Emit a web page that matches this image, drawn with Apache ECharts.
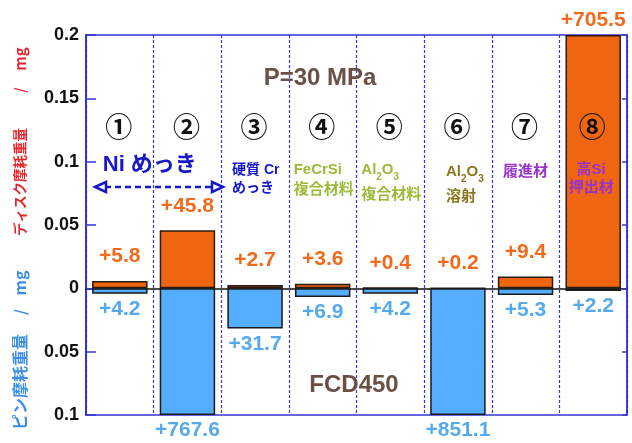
<!DOCTYPE html>
<html><head><meta charset="utf-8">
<script src="https://cdn.jsdelivr.net/npm/echarts@6/dist/echarts.min.js"></script>
<style>html,body{margin:0;padding:0;background:#fff}#c{width:632px;height:443px}</style>
</head><body><div id="c"></div>
<script>
// Data (labels are wear values ×10^-3 mg, as printed on the chart)
const categories = ['①','②','③','④','⑤','⑥','⑦','⑧'];
const discWear = [5.8, 45.8, 2.7, 3.6, 0.4, 0.2, 9.4, 705.5];
const pinWear = [4.2, 767.6, 31.7, 6.9, 4.2, 851.1, 5.3, 2.2];
const yMin = -0.1, yMax = 0.2, yInterval = 0.05;
const materials = ['Ni めっき', '', '硬質 Cr\nめっき', 'FeCrSi\n複合材料', '{n|Al}{s|2}{n|O}{s|3}\n{n|複合材料}', '{n|Al}{s|2}{n|O}{s|3}\n{n|溶射}', '履進材', '高Si\n押出材'];

const FONT = "'Liberation Sans', 'Noto Sans CJK JP', sans-serif";
const ORANGE = '#f0650f', BLUE = '#55adff', AXIS = '#3434d8';

const chart = echarts.init(document.getElementById('c'));

const discData = discWear.map(v => {
  const val = Math.min(v / 1000, yMax);
  const item = { value: val, raw: v };
  if (v / 1000 > yMax) item.label = { distance: 4 };
  return item;
});
const pinData = pinWear.map(v => {
  const val = Math.max(-v / 1000, yMin);
  return { value: val, raw: v };
});

const yLabelFmt = v => { const a = Math.abs(v); return a < 1e-9 ? '0' : String(+a.toFixed(2)); };

chart.setOption({
  animation: false,
  grid: { left: 86, right: 5, top: 35, bottom: 28, show: true, borderColor: AXIS, borderWidth: 1.5 },
  xAxis: {
    type: 'category', data: categories,
    axisLine: { onZero: true, lineStyle: { color: '#111', width: 1.5 } },
    axisTick: { show: false }, axisLabel: { show: false },
    splitLine: { show: true, interval: 0, lineStyle: { color: AXIS, type: [3, 2], width: 1.2 } }
  },
  yAxis: [{
    type: 'value', min: yMin, max: yMax, interval: yInterval,
    axisLine: { show: true, lineStyle: { color: AXIS, width: 2 } },
    axisTick: { show: true, inside: true, length: 10, lineStyle: { color: AXIS, width: 1.5 } },
    axisLabel: { formatter: yLabelFmt, color: '#111', fontSize: 18, fontWeight: 'bold', fontFamily: FONT, margin: 7 },
    splitLine: { show: false }
  }, {
    type: 'value', min: yMin, max: yMax, interval: yInterval, position: 'right',
    axisLine: { show: true, lineStyle: { color: AXIS, width: 1.5 } },
    axisTick: { show: true, inside: true, length: 5, lineStyle: { color: AXIS, width: 1.5 } },
    axisLabel: { show: false }, splitLine: { show: false }
  }],
  series: [{
    name: 'disc', type: 'bar', stack: 'w', barWidth: '82%', data: discData,
    itemStyle: { color: ORANGE, borderColor: '#2a1a10', borderWidth: 1.5 },
    label: { show: true, position: 'top', distance: 14, formatter: p => '+' + p.data.raw.toFixed(1),
      color: '#f26a1c', fontSize: 21, fontWeight: 'bold', fontFamily: FONT }
  }, {
    name: 'pin', type: 'bar', stack: 'w', barWidth: '82%', data: pinData,
    itemStyle: { color: BLUE, borderColor: '#1a1a1a', borderWidth: 1.5 },
    label: { show: true, position: 'bottom', distance: 5, formatter: p => '+' + p.data.raw.toFixed(1),
      color: '#55aaee', fontSize: 21, fontWeight: 'bold', fontFamily: FONT }
  }]
});

// annotations
const cx = i => chart.convertToPixel({ xAxisIndex: 0 }, categories[i]);
const g = [];
categories.forEach((c, i) => {
  g.push({ type: 'text', x: cx(i) - 1, y: 127, style: { text: c, fill: '#111', font: "bold 27px 'Noto Sans CJK JP', sans-serif", align: 'center', verticalAlign: 'middle' }, z: 10 });
});
const matStyle = [
  { dx: 30, y: 165, align: 'center', color: '#1616cc', size: 22, lh: 24 },
  null,
  { dx: -23, y: 179, align: 'left', color: '#1616cc', size: 14, lh: 18 },
  { dx: -29, y: 180, align: 'left', color: '#9bba38', size: 15, lh: 20 },
  { dx: -29, y: 182, align: 'left', color: '#9bba38', size: 15, lh: 25 },
  { dx: -12, y: 184, align: 'left', color: '#8a7820', size: 15, lh: 25 },
  { dx: 0, y: 172, align: 'center', color: '#9933cc', size: 15, lh: 20 },
  { dx: -2, y: 179, align: 'center', color: '#9933cc', size: 15, lh: 18 }
];
materials.forEach((t, i) => {
  const s = matStyle[i];
  if (!t || !s) return;
  g.push({ type: 'text', x: cx(i) + s.dx, y: s.y, z: 10, style: {
    text: t, fill: s.color, fontSize: s.size, fontWeight: 'bold', fontFamily: FONT, lineHeight: s.lh,
    align: s.align, verticalAlign: 'middle',
    rich: { n: { fontSize: s.size, fontWeight: 'bold', fontFamily: FONT, fill: s.color, lineHeight: s.lh },
            s: { fontSize: 10, fontWeight: 'bold', fontFamily: FONT, fill: s.color, lineHeight: s.lh, verticalAlign: 'bottom' } }
  } });
});
// Ni plating span arrow
const ay = 187, ax1 = 95, ax2 = 223;
g.push({ type: 'line', z: 10, shape: { x1: ax1 + 10, y1: ay, x2: ax2 - 10, y2: ay }, style: { stroke: '#1616cc', lineWidth: 2.5, lineDash: [6, 4] } });
g.push({ type: 'polygon', z: 10, shape: { points: [[ax1, ay], [ax1 + 11, ay - 5], [ax1 + 11, ay + 5]] }, style: { fill: '#fff', stroke: '#1616cc', lineWidth: 2.5 } });
g.push({ type: 'polygon', z: 10, shape: { points: [[ax2, ay], [ax2 - 11, ay - 5], [ax2 - 11, ay + 5]] }, style: { fill: '#fff', stroke: '#1616cc', lineWidth: 2.5 } });
// condition texts
g.push({ type: 'text', x: 320, y: 78, z: 10, style: { text: 'P=30 MPa', fill: '#6b5046', font: "bold 24px 'Liberation Sans', sans-serif", align: 'center', verticalAlign: 'middle' } });
g.push({ type: 'text', x: 354, y: 385, z: 10, style: { text: 'FCD450', fill: '#6b5046', font: "bold 24px 'Liberation Sans', sans-serif", align: 'center', verticalAlign: 'middle' } });
// axis titles (rotated, read bottom to top)
const rot = (t, y, color, size) => g.push({ type: 'text', x: 20, y: y, rotation: Math.PI / 2, z: 10,
  style: { text: t, fill: color, font: 'bold ' + size + "px 'Noto Sans CJK JP', sans-serif", align: 'center', verticalAlign: 'middle' } });
rot('ディスク摩耗重量', 182, '#e8242a', 13.5);
rot('/', 90, '#e8242a', 14);
rot('mg', 59, '#e8242a', 15);
rot('ピン摩耗重量', 382, '#3d8fe6', 16);
rot('/', 312, '#3d8fe6', 15);
rot('mg', 283, '#3d8fe6', 16);

chart.setOption({ graphic: g });
</script></body></html>
